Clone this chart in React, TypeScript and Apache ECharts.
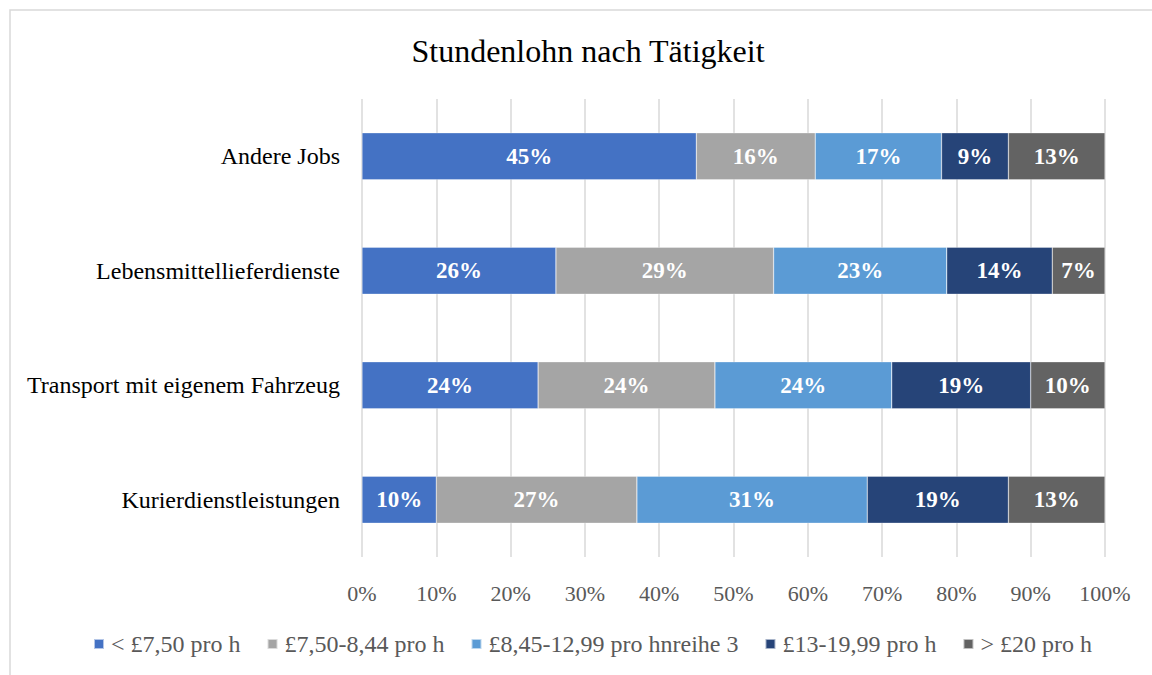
import React, { useEffect, useRef } from "react";
import * as echarts from "echarts";

const categories = [
  "Andere Jobs",
  "Lebensmittellieferdienste",
  "Transport mit eigenem Fahrzeug",
  "Kurierdienstleistungen",
];
const seriesNames = [
  "< £7,50 pro h",
  "£7,50-8,44 pro h",
  "£8,45-12,99 pro hnreihe 3",
  "£13-19,99 pro h",
  "> £20 pro h",
];
const under750 = [45, 26.1, 23.7, 10];
const from750 = [16, 29.3, 23.8, 27];
const from845 = [17, 23.3, 23.8, 31];
const from13 = [9, 14.2, 18.7, 19];
const over20 = [13, 7.1, 10, 13];
const seriesValues = [under750, from750, from845, from13, over20];
const colors = ["#4472C4", "#A5A5A5", "#5B9BD5", "#264478", "#636363"];
const xTicks = [0, 10, 20, 30, 40, 50, 60, 70, 80, 90, 100];

const FONT = "'Liberation Serif', 'Times New Roman', serif";

export default function App() {
  const ref = useRef<HTMLDivElement>(null);
  useEffect(() => {
    if (!ref.current) return;
    const chart = echarts.init(ref.current, null, { renderer: "svg" });
    chart.setOption({
      animation: false,
      backgroundColor: "#ffffff",
      title: {
        text: "Stundenlohn nach Tätigkeit",
        left: 583,
        top: 30,
        textAlign: "center",
        textStyle: { fontFamily: FONT, fontSize: 32, fontWeight: "normal", color: "#000000" },
      },
      graphic: [
        {
          type: "rect",
          shape: { x: 10, y: 10, width: 1200, height: 700 },
          style: { fill: "none", stroke: "#d9d9d9", lineWidth: 1.5 },
          silent: true,
        },
      ],
      legend: {
        bottom: 14,
        left: 88,
        itemWidth: 10,
        itemHeight: 10,
        itemGap: 26,
        icon: "rect",
        textStyle: { fontFamily: FONT, fontSize: 24, color: "#595959", padding: [0, 0, 0, 2] },
        data: seriesNames,
      },
      grid: { left: 362, right: 47, top: 99, bottom: 118, containLabel: false },
      xAxis: {
        type: "value",
        min: 0,
        max: 100,
        interval: 10,
        axisLine: { show: false },
        axisTick: { show: false },
        splitLine: { lineStyle: { color: "#d9d9d9", width: 1.5 } },
        axisLabel: {
          formatter: (v: number) => (xTicks.includes(v) ? v + "%" : ""),
          fontFamily: FONT,
          fontSize: 22,
          color: "#595959",
          margin: 25,
        },
      },
      yAxis: {
        type: "category",
        inverse: true,
        data: categories,
        axisLine: { show: false },
        axisTick: { show: false },
        axisLabel: { fontFamily: FONT, fontSize: 24, color: "#000000", margin: 22 },
      },
      series: seriesNames.map((name, i) => ({
        name,
        type: "bar",
        stack: "total",
        barWidth: 47,
        data: seriesValues[i],
        itemStyle: { color: colors[i], borderColor: "rgba(255,255,255,0.6)", borderWidth: 0.5 },
        label: {
          show: true,
          position: "inside",
          formatter: (p: any) => Math.round(p.value) + "%",
          fontFamily: FONT,
          fontSize: 23,
          fontWeight: "bold",
          color: "#ffffff",
        },
      })),
    });
    return () => chart.dispose();
  }, []);
  return (
    <div
      ref={ref}
      style={{ position: "fixed", left: 0, top: 0, width: 1152, height: 675 }}
    />
  );
}
